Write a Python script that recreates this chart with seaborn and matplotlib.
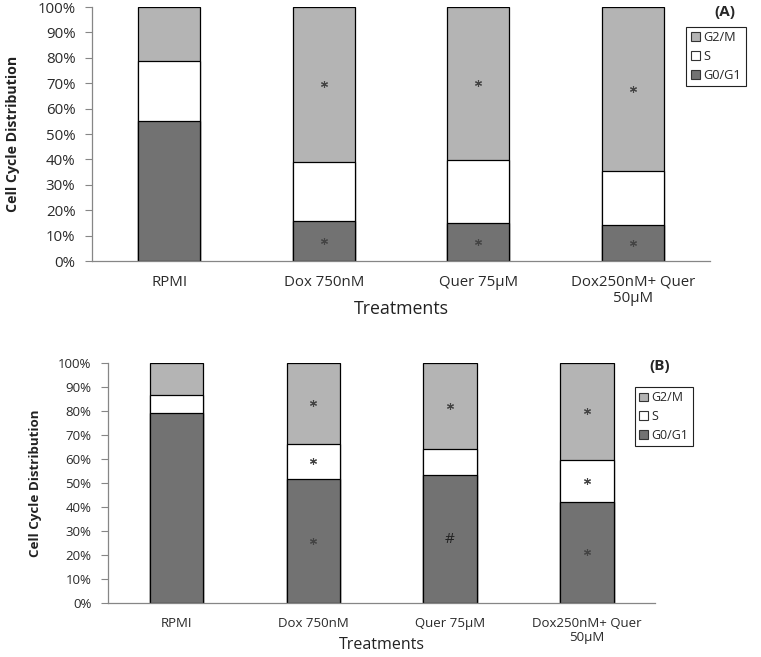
import pandas as pd
import numpy as np
import matplotlib
matplotlib.use("Agg")
import matplotlib.pyplot as plt
import seaborn as sns
from matplotlib.patches import Patch
from matplotlib.ticker import FixedLocator

# treatments on the x axis
treatments = ["RPMI", "Dox 750nM", "Quer 75\u00b5M", "Dox250nM+ Quer\n50\u00b5M"]
phases = ["G2/M", "S", "G0/G1"]

# panel (A) percentages
a_g0g1 = [55.1, 15.7, 15.0, 14.2]
a_s = [23.6, 23.3, 24.8, 21.2]
a_g2m = [21.3, 61.0, 60.2, 64.6]
a_sig_g0g1 = ["", "*", "*", "*"]
a_sig_s = ["", "", "", ""]
a_sig_g2m = ["", "*", "*", "*"]

# panel (B) percentages
b_g0g1 = [79.2, 51.7, 53.3, 42.1]
b_s = [7.5, 14.6, 10.9, 17.5]
b_g2m = [13.3, 33.7, 35.8, 40.4]
b_sig_g0g1 = ["", "*", "#", "*"]
b_sig_s = ["", "*", "", "*"]
b_sig_g2m = ["", "*", "*", "*"]

colors = {"G2/M": "#b4b4b4", "S": "#ffffff", "G0/G1": "#727272"}

sns.set_style("white")
plt.rcParams["font.family"] = ["Open Sans", "DejaVu Sans"]

fig = plt.figure(figsize=(7.61, 6.57), dpi=100)
axA = fig.add_axes([0.121, 0.6027, 0.812, 0.3866])
axB = fig.add_axes([0.142, 0.0822, 0.719, 0.3653])


def stacked(ax, g0g1, s, g2m, sigs, width, fs, xlabpad, ylabx, ylabfs):
    df = pd.DataFrame({"Treatment": treatments, "G0/G1": g0g1, "S": s, "G2/M": g2m})
    df["top_s"] = df["G0/G1"] + df["S"]
    df["top_g2m"] = df["top_s"] + df["G2/M"]
    # draw cumulative totals from the tallest down
    for col, ph in [("top_g2m", "G2/M"), ("top_s", "S"), ("G0/G1", "G0/G1")]:
        sns.barplot(data=df, x="Treatment", y=col, color=colors[ph], width=width,
                    edgecolor="black", linewidth=0.9, saturation=1, ax=ax)
    # significance marks in the middle of each segment
    lows = {"G0/G1": np.zeros(4), "S": df["G0/G1"].values, "G2/M": df["top_s"].values}
    highs = {"G0/G1": df["G0/G1"].values, "S": df["top_s"].values, "G2/M": df["top_g2m"].values}
    for ph, marks in sigs.items():
        for i, m in enumerate(marks):
            mid = (lows[ph][i] + highs[ph][i]) / 2
            if m == "*":
                ax.plot(i, mid, marker=(6, 2, 0), markersize=5, markeredgewidth=0.8,
                        color="#444444", zorder=5)
            elif m:
                ax.text(i, mid, m, ha="center", va="center", fontsize=11, color="#222222")
    ax.set_ylim(0, 100)
    ax.set_xlim(-0.5, 3.5)
    ax.set_yticks(range(0, 101, 10))
    ax.set_yticklabels([f"{v}%" for v in range(0, 101, 10)], fontsize=fs, color="#2a2a2a")
    ax.xaxis.set_major_locator(FixedLocator([-0.5, 0.5, 1.5, 2.5, 3.5]))
    ax.set_xticklabels([])
    ax.xaxis.set_minor_locator(FixedLocator([0, 1, 2, 3]))
    ax.set_xticklabels(treatments, minor=True, fontsize=fs, color="#2a2a2a", linespacing=1.1)
    ax.tick_params(axis="x", which="minor", length=0, pad=10)
    ax.tick_params(axis="x", which="major", length=5, width=0.8, color="#868686", direction="out")
    ax.tick_params(axis="y", length=5, width=0.8, color="#868686", direction="out", pad=7, left=True)
    for sp in ["top", "right"]:
        ax.spines[sp].set_visible(False)
    for sp in ["left", "bottom"]:
        ax.spines[sp].set_color("#868686")
        ax.spines[sp].set_linewidth(0.9)
    ax.set_xlabel("Treatments", fontsize=fs + 2, color="#222222", labelpad=xlabpad)
    ax.set_ylabel("Cell Cycle Distribution", fontsize=ylabfs, fontweight="bold", color="#222222")
    ax.yaxis.set_label_coords(ylabx, 0.5)
    handles = [Patch(facecolor=colors[p], edgecolor="#333333", linewidth=0.8, label=p) for p in phases]
    return handles


hA = stacked(axA, a_g0g1, a_s, a_g2m, {"G0/G1": a_sig_g0g1, "S": a_sig_s, "G2/M": a_sig_g2m},
             0.40, 10.8, -4, -0.117, 10.2)
hB = stacked(axB, b_g0g1, b_s, b_g2m, {"G0/G1": b_sig_g0g1, "S": b_sig_s, "G2/M": b_sig_g2m},
             0.39, 9.5, -5, -0.121, 9.6)

for h, anchor, lfs in [(hA, (0.902, 0.959), 9.2), (hB, (0.834, 0.411), 9)]:
    leg = fig.legend(handles=h, loc="upper left", bbox_to_anchor=anchor, fontsize=lfs,
                     handlelength=0.7, handleheight=0.7, handletextpad=0.3, labelspacing=0.45,
                     borderpad=0.35, borderaxespad=0, fancybox=False, framealpha=1,
                     edgecolor="#222222")
    leg.get_frame().set_linewidth(0.8)

fig.text(725 / 761, 1 - 12 / 657, "(A)", ha="center", va="center", fontsize=11, fontweight="bold")
fig.text(660 / 761, 1 - 366 / 657, "(B)", ha="center", va="center", fontsize=11, fontweight="bold")

fig.savefig("out.png", dpi=100)
